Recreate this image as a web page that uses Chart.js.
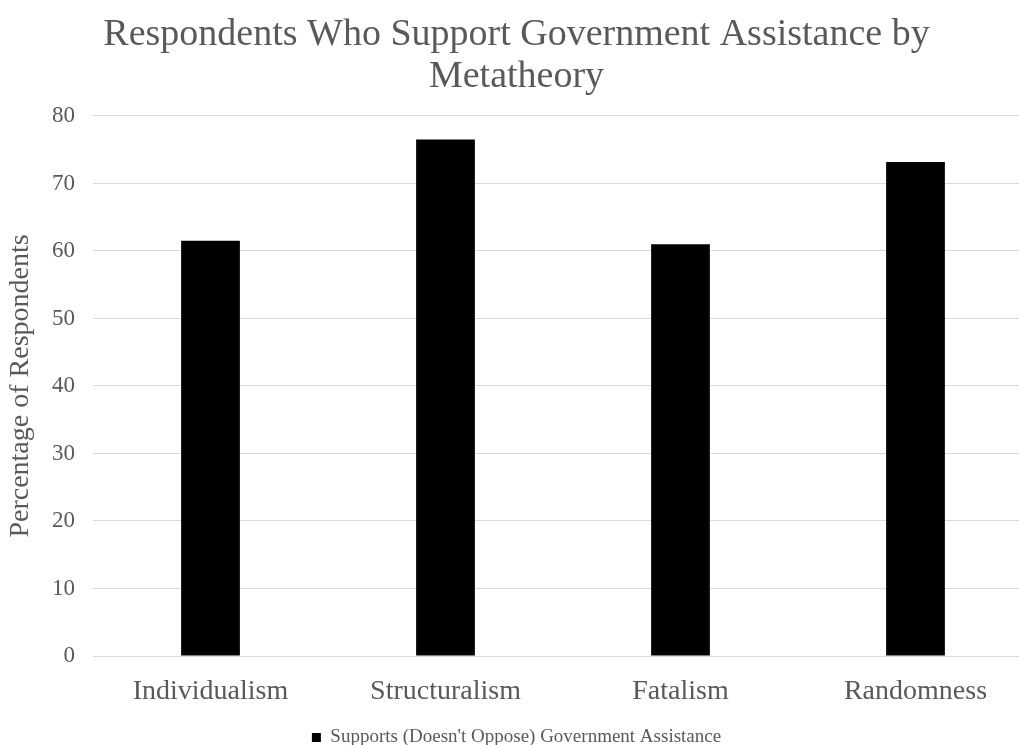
<!DOCTYPE html>
<html>
<head>
<meta charset="utf-8">
<title>Respondents Who Support Government Assistance by Metatheory</title>
<script src="https://cdn.jsdelivr.net/npm/chart.js@4"></script>
<style>
  html, body { margin: 0; padding: 0; background: #ffffff; overflow: hidden; }
  #myChart { display: block; }
</style>
</head>
<body>
<canvas id="myChart" width="1038" height="745"></canvas>
<script>
// data
const categories = ['Individualism', 'Structuralism', 'Fatalism', 'Randomness'];
const supportValues = [61.5, 76.5, 61.0, 73.2];
const seriesLabel = "Supports (Doesn't Oppose) Government Assistance";
const yTicks = [0, 10, 20, 30, 40, 50, 60, 70, 80];

const textGray = '#595959';
const serif = '"Liberation Serif", "Times New Roman", serif';

const ctx = document.getElementById('myChart').getContext('2d');
const myChart = new Chart(ctx, {
    type: 'bar',
    data: {
        labels: categories,
        datasets: [
            {
                label: seriesLabel,
                data: supportValues,
                backgroundColor: '#000000',
                borderWidth: 0,
                categoryPercentage: 1.0,
                barPercentage: 0.25
            }]
    },
    options: {
        responsive: false,
        animation: false,
        // negative bottom padding pushes the legend down to the canvas edge
        layout: { padding: { top: 4, left: 0, right: 5, bottom: -12 } },
        plugins: {
            title: {
                display: true,
                text: ['Respondents Who Support Government Assistance by', 'Metatheory'],
                color: textGray,
                font: { family: serif, size: 38, weight: 'normal', lineHeight: 1.105 },
                padding: { top: 10, bottom: 18 }
            },
            legend: {
                display: true,
                position: 'bottom',
                labels: {
                    color: textGray,
                    font: { family: serif, size: 19 },
                    boxWidth: 9,
                    boxHeight: 9,
                    padding: 2
                }
            },
            tooltip: { enabled: false }
        },
        scales: {
            x: {
                grid: { display: false },
                border: { display: false },
                ticks: {
                    color: textGray,
                    font: { family: serif, size: 28 },
                    padding: 11
                },
                afterFit: function (scale) {
                    scale.height = 70;
                }
            },
            y: {
                min: 0,
                max: 80,
                afterBuildTicks: function (scale) {
                    scale.ticks = yTicks.map(function (v) { return { value: v }; });
                },
                grid: { color: '#d9d9d9', lineWidth: 1, drawTicks: false },
                border: { display: false },
                ticks: {
                    color: textGray,
                    font: { family: serif, size: 23 },
                    padding: 18
                },
                title: {
                    display: true,
                    text: 'Percentage of Respondents',
                    color: textGray,
                    font: { family: serif, size: 28 },
                    padding: { top: 4, bottom: 0 }
                },
                afterFit: function (scale) {
                    scale.width = 93;
                }
            }
        }
    }
});
</script>
</body>
</html>
